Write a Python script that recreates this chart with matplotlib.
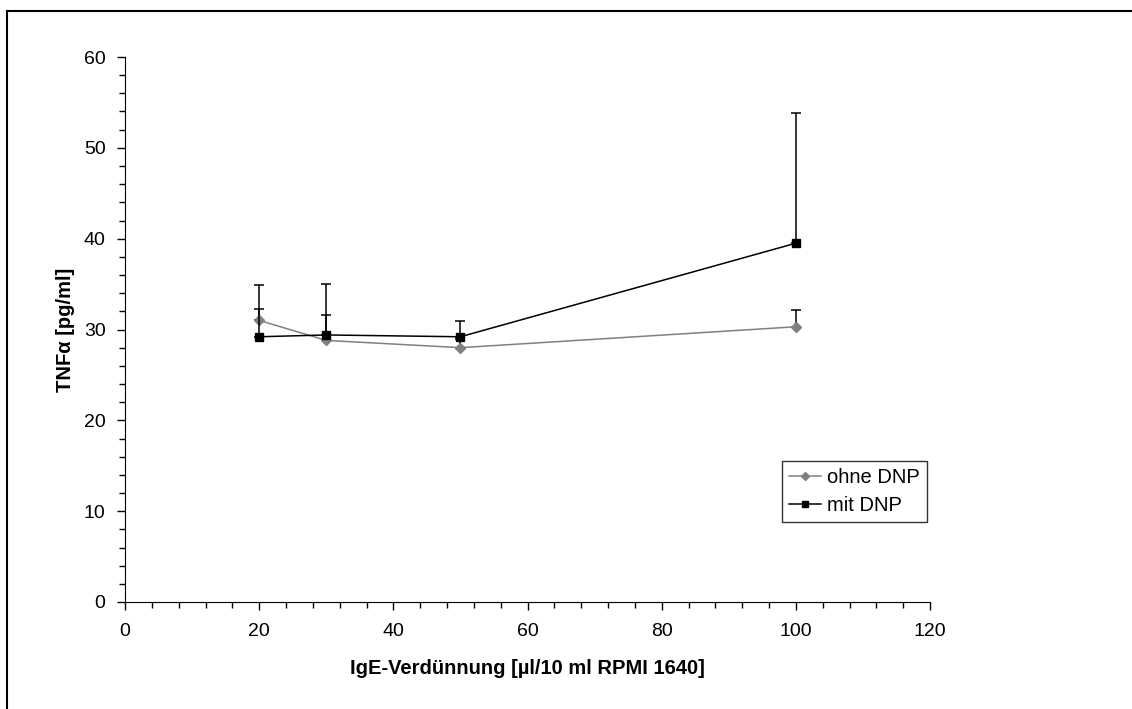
import matplotlib
matplotlib.use('Agg')
import matplotlib.pyplot as plt
from matplotlib.ticker import MultipleLocator
from matplotlib.lines import Line2D

plt.rcParams['font.family'] = ['Liberation Sans', 'DejaVu Sans']

# Daten
x = [20, 30, 50, 100]
ohne_DNP = [31.0, 28.8, 28.0, 30.3]
ohne_DNP_sd = [1.3, 2.8, 1.0, 1.9]
mit_DNP = [29.2, 29.4, 29.2, 39.5]
mit_DNP_sd = [5.7, 5.6, 1.7, 14.3]

fig = plt.figure(figsize=(11.32, 7.09), dpi=100)
ax = fig.add_axes([125/1132, 107/709, 805/1132, 545/709])

# nur positive Fehlerbalken (wie Excel)
ax.errorbar(x, ohne_DNP, yerr=[[0]*len(x), ohne_DNP_sd], color='#808080', ecolor='black',
            marker='D', markersize=5.5, linewidth=1.1, elinewidth=1.1, capsize=3.3, capthick=1.1,
            label='ohne DNP', zorder=2)
ax.errorbar(x, mit_DNP, yerr=[[0]*len(x), mit_DNP_sd], color='black', ecolor='black',
            marker='s', markersize=6, linewidth=1.1, elinewidth=1.1, capsize=3.3, capthick=1.1,
            label='mit DNP', zorder=3)

ax.set_xlim(0, 120)
ax.set_ylim(0, 60)
ax.xaxis.set_major_locator(MultipleLocator(20))
ax.xaxis.set_minor_locator(MultipleLocator(4))
ax.yaxis.set_major_locator(MultipleLocator(10))
ax.yaxis.set_minor_locator(MultipleLocator(2))
ax.tick_params(which='major', direction='out', length=6, width=1, labelsize=14, pad=9)
ax.tick_params(axis='y', which='major', pad=8)
ax.tick_params(which='minor', direction='out', length=4, width=1)
ax.spines['top'].set_visible(False)
ax.spines['right'].set_visible(False)

ax.set_xlabel('IgE-Verdünnung [µl/10 ml RPMI 1640]', fontsize=14.5, fontweight='bold', labelpad=14)
ax.set_ylabel('TNFα [pg/ml]', fontsize=14.5, fontweight='bold', labelpad=6)

h1 = Line2D([], [], color='#808080', marker='D', markersize=4.5, linewidth=1.1)
h2 = Line2D([], [], color='black', marker='s', markersize=5, linewidth=1.1)
leg = ax.legend([h1, h2], ['ohne DNP', 'mit DNP'], loc='upper left', bbox_to_anchor=(0.816, 0.259),
                fontsize=14.5, frameon=True, fancybox=False, edgecolor='black', borderpad=0.35,
                handlelength=1.6, handletextpad=0.3, labelspacing=0.45, borderaxespad=0)
leg.get_frame().set_linewidth(1)

# Rahmen (oben und links)
fig.add_artist(Line2D([7/1132, 7/1132], [0, 1 - 11/709], color='black', linewidth=1.5))
fig.add_artist(Line2D([7/1132, 1], [1 - 11/709, 1 - 11/709], color='black', linewidth=1.5))

plt.savefig('out.png', dpi=100)
